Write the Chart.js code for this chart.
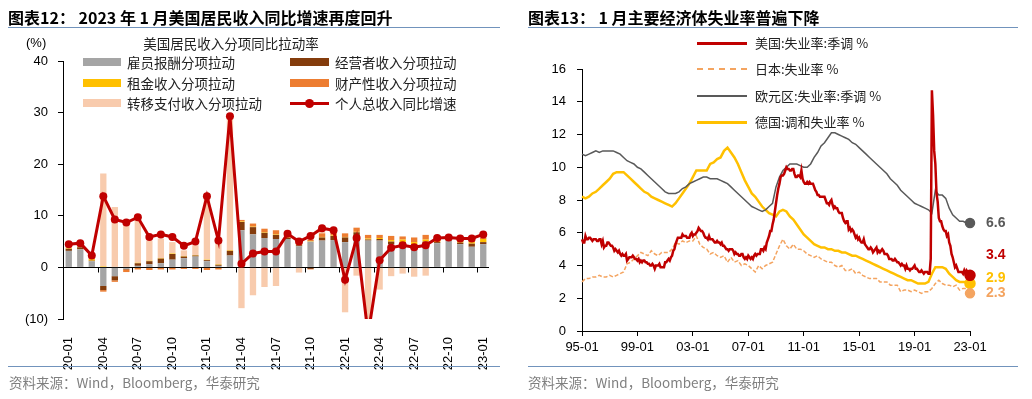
<!DOCTYPE html>
<html>
<head>
<meta charset="utf-8">
<script src="https://cdn.jsdelivr.net/npm/chart.js@4.4.0/dist/chart.umd.min.js"></script>
<style>
  body { margin: 0; width: 1032px; height: 399px; background: #fff; position: relative; overflow: hidden;
         font-family: "Noto Sans CJK SC", "Liberation Sans", sans-serif; }
  canvas { position: absolute; top: 0; }
  .t { position: absolute; white-space: nowrap; }
  .title { font-weight: bold; font-size: 16px; line-height: 16px; top: 9px; color: #000; }
  .rule { position: absolute; height: 0; border-top: 1.5px solid #7193BC; }
  .src { font-size: 13.5px; line-height: 14px; top: 375px; color: #7f7f7f; }
  .lg { font-size: 13.5px; line-height: 14px; color: #222; }
  .lg2 { font-size: 13px; line-height: 14px; color: #222; }
  .sw { position: absolute; }
</style>
</head>
<body>
<canvas id="incomeChart" width="515" height="399" style="left:0"></canvas>
<canvas id="jobsChart" width="512" height="399" style="left:520px"></canvas>

<div class="t title" style="left:8px">图表12： 2023 年 1 月美国居民收入同比增速再度回升</div>
<div class="rule" style="left:8px;width:492px;top:27px"></div>
<div class="rule" style="left:8px;width:492px;top:366px"></div>
<div class="t src" style="left:9px">资料来源：Wind，Bloomberg，华泰研究</div>

<div class="t title" style="left:528px">图表13： 1 月主要经济体失业率普遍下降</div>
<div class="rule" style="left:528px;width:490px;top:27px"></div>
<div class="rule" style="left:528px;width:490px;top:366px"></div>
<div class="t src" style="left:528px">资料来源：Wind，Bloomberg，华泰研究</div>

<!-- left legend -->
<div class="t" style="left:26px;top:36px;font:13px/14px 'Liberation Sans',Arial,sans-serif;">(%)</div>
<div class="t lg" style="left:131px;width:200px;text-align:center;top:36px">美国居民收入分项同比拉动率</div>
<div class="sw" style="left:83px;top:58px;width:38px;height:8px;background:#A5A5A5"></div>
<div class="t lg" style="left:127px;top:55px">雇员报酬分项拉动</div>
<div class="sw" style="left:290px;top:58px;width:39px;height:8px;background:#843C0C"></div>
<div class="t lg" style="left:335px;top:55px">经营者收入分项拉动</div>
<div class="sw" style="left:83px;top:79px;width:38px;height:8px;background:#FFC000"></div>
<div class="t lg" style="left:127px;top:76px">租金收入分项拉动</div>
<div class="sw" style="left:290px;top:79px;width:39px;height:8px;background:#ED7D31"></div>
<div class="t lg" style="left:335px;top:76px">财产性收入分项拉动</div>
<div class="sw" style="left:83px;top:99px;width:38px;height:8px;background:#F8CBAD"></div>
<div class="t lg" style="left:127px;top:96px">转移支付收入分项拉动</div>
<div class="sw" style="left:290px;top:102px;width:39px;height:3px;background:#C00000"></div>
<div class="sw" style="left:305px;top:99px;width:9px;height:9px;border-radius:50%;background:#C00000"></div>
<div class="t lg" style="left:335px;top:96px">个人总收入同比增速</div>

<!-- right legend -->
<div class="sw" style="left:697px;top:42px;width:50px;height:3px;background:#C00000"></div>
<div class="t lg2" style="left:755px;top:36px">美国:失业率:季调 %</div>
<div class="sw" style="left:697px;top:68px;width:50px;height:0;border-top:2px dashed #F4A460"></div>
<div class="t lg2" style="left:755px;top:62px">日本:失业率 %</div>
<div class="sw" style="left:697px;top:95px;width:50px;height:2px;background:#595959"></div>
<div class="t lg2" style="left:755px;top:89px">欧元区:失业率:季调 %</div>
<div class="sw" style="left:697px;top:121px;width:50px;height:3px;background:#FFC000"></div>
<div class="t lg2" style="left:755px;top:115px">德国:调和失业率 %</div>

<script>
Chart.defaults.font.family = "'Liberation Sans', Arial, sans-serif";
Chart.defaults.font.size = 13;
Chart.defaults.color = '#000';

// ---- left chart data: US personal income, YoY contributions (%) ----
const months = ['20-01','20-02','20-03','20-04','20-05','20-06','20-07','20-08','20-09','20-10','20-11','20-12',
  '21-01','21-02','21-03','21-04','21-05','21-06','21-07','21-08','21-09','21-10','21-11','21-12',
  '22-01','22-02','22-03','22-04','22-05','22-06','22-07','22-08','22-09','22-10','22-11','22-12','23-01'];
const empComp  = [3.2, 3.5, 1.2, -3.6, -1.7, -0.3, 0.3, 0.6, 0.8, 1.5, 1.8, 2.1, 1.2, 0.3, 2.3, 7.2, 6.4, 5.7, 5.5, 5.5, 4.1, 5.0, 5.2, 5.3, 4.9, 6.0, 5.2, 5.2, 4.5, 4.7, 4.2, 4.7, 4.7, 5.2, 4.5, 4.0, 4.5];
const business = [0.4, 0.4, 0.1, -0.8, -0.8, -0.1, 0.5, 0.6, 0.9, 1.1, 0.3, 0.2, 0.2, 0.2, 0.9, 1.6, 1.4, 1.0, 0.8, 0.2, 0.2, -0.3, 0.6, 0.8, 0.9, 0.8, 0.2, 0.3, 0.5, 0.2, 0.2, 0.3, 0.2, 0.2, 0.3, 0.6, 0.4];
const rent     = [0.1, 0.1, 0.3, 0.2, 0.1, 0.1, 0.1, 0.1, 0.1, 0.1, 0.1, 0.1, 0.1, 0.1, 0.1, 0.1, 0.1, 0.1, 0.1, 0.1, 0.1, 0.1, 0.1, 0.1, 0.1, 0.1, 0.2, 0.2, 0.3, 0.5, 0.5, 0.4, 0.3, 0.2, 0.2, 0.3, 0.6];
const property = [0.1, 0.1, 0.1, -0.3, -0.3, -0.5, -0.4, -0.5, -0.4, -0.4, -0.3, -0.3, -0.5, -0.4, 0.1, 0.3, 0.6, 0.7, 0.8, 0.3, 0.6, 0.3, 0.7, 0.6, 0.7, 0.8, 0.7, 0.6, 0.8, 0.6, 0.9, 0.9, 0.3, 0.2, 0.2, 0.2, 0.2];
const transfer = [0.3, 0.3, 0.2, 18.0, 11.6, 8.1, 8.2, 3.9, 3.8, 2.2, 1.1, 1.9, 11.8, 5.0, 25.9, -7.9, -5.4, -3.8, -3.6, 0.2, -1.0, -0.2, 0.3, 0.5, -8.7, -1.6, -16, -4.3, -1.7, -1.2, -1.8, -1.6, 0.2, 0.1, 0.2, 0.2, 0.2];
const totalYoY = [4.5, 4.7, 2.3, 13.8, 9.3, 8.7, 9.7, 5.9, 6.4, 5.9, 4.2, 5.0, 13.8, 5.2, 29.3, 0.7, 2.7, 3.1, 3.1, 6.5, 5.0, 6.1, 7.6, 7.2, -2.4, 5.7, -13, 1.4, 3.8, 4.3, 3.9, 4.3, 5.7, 5.8, 5.6, 5.6, 6.4];

// ---- right chart data: unemployment rates (%) ----
// US monthly from 1995-01; the others quarterly (Jan/Apr/Jul/Oct) from 1995-01
const usRate = [
  5.6,5.4,5.4,5.8,5.6,5.6,5.7,5.7,5.6,5.5,5.6,5.6,
  5.6,5.5,5.5,5.6,5.6,5.3,5.5,5.1,5.2,5.2,5.4,5.4,
  5.3,5.2,5.2,5.1,4.9,5.0,4.9,4.8,4.9,4.7,4.6,4.7,
  4.6,4.6,4.7,4.3,4.4,4.5,4.5,4.5,4.6,4.5,4.4,4.4,
  4.3,4.4,4.2,4.3,4.2,4.3,4.3,4.2,4.2,4.1,4.1,4.0,
  4.0,4.1,4.0,3.8,4.0,4.0,4.0,4.1,3.9,3.9,3.9,3.9,
  4.2,4.2,4.3,4.4,4.3,4.5,4.6,4.9,5.0,5.3,5.5,5.7,
  5.7,5.7,5.7,5.9,5.8,5.8,5.8,5.7,5.7,5.7,5.9,6.0,
  5.8,5.9,5.9,6.0,6.1,6.3,6.2,6.1,6.1,6.0,5.8,5.7,
  5.7,5.6,5.8,5.6,5.6,5.6,5.5,5.4,5.4,5.5,5.4,5.4,
  5.3,5.4,5.2,5.2,5.1,5.0,5.0,4.9,5.0,5.0,5.0,4.9,
  4.7,4.8,4.7,4.7,4.6,4.6,4.7,4.7,4.5,4.4,4.5,4.4,
  4.6,4.5,4.4,4.5,4.4,4.6,4.7,4.6,4.7,4.7,4.7,5.0,
  5.0,4.9,5.1,5.0,5.4,5.6,5.8,6.1,6.1,6.5,6.8,7.3,
  7.8,8.3,8.7,9.0,9.4,9.5,9.5,9.6,9.8,10.0,9.9,9.9,
  9.8,9.8,9.9,9.9,9.6,9.4,9.4,9.5,9.5,9.4,9.8,9.3,
  9.1,9.0,9.0,9.1,9.0,9.1,9.0,9.0,9.0,8.8,8.6,8.5,
  8.3,8.3,8.2,8.2,8.2,8.2,8.2,8.0,7.8,7.8,7.7,7.9,
  8.0,7.7,7.5,7.6,7.5,7.5,7.3,7.2,7.2,7.2,6.9,6.7,
  6.6,6.7,6.7,6.2,6.3,6.1,6.2,6.1,5.9,5.7,5.8,5.6,
  5.7,5.5,5.4,5.4,5.6,5.3,5.2,5.1,5.0,5.0,5.1,5.0,
  4.8,4.9,5.0,5.1,4.8,4.9,4.8,4.9,5.0,4.9,4.7,4.7,
  4.7,4.6,4.4,4.4,4.4,4.3,4.3,4.4,4.3,4.2,4.2,4.1,
  4.0,4.1,4.0,4.0,3.8,4.0,3.8,3.8,3.7,3.8,3.8,3.9,
  4.0,3.8,3.8,3.7,3.6,3.6,3.7,3.6,3.5,3.6,3.6,3.6,
  3.5,3.5,4.4,14.7,13.2,11.0,10.2,8.4,7.9,6.9,6.7,6.7,
  6.4,6.2,6.1,6.1,5.8,5.9,5.4,5.2,4.7,4.5,4.2,3.9,
  4.0,3.8,3.6,3.6,3.6,3.6,3.5,3.7,3.5,3.7,3.6,3.5,
  3.4];
const jpRate = [
  3.0,3.2,3.2,3.3, 3.3,3.4,3.3,3.3, 3.4,3.3,3.4,3.5, 3.6,4.1,4.2,4.4,
  4.6,4.8,4.7,4.6, 4.9,4.7,4.6,4.8, 4.8,4.8,5.0,5.4, 5.3,5.5,5.4,5.5,
  5.5,5.8,5.3,5.1, 5.0,4.7,4.8,4.6, 4.5,4.6,4.2,4.5, 4.2,4.3,4.0,4.1,
  4.0,3.8,3.6,4.0, 3.8,4.0,4.1,4.2, 4.7,5.2,5.6,5.2, 5.0,5.3,5.0,5.0,
  4.9,4.7,4.6,4.5, 4.6,4.4,4.3,4.2, 4.2,4.0,3.9,4.0, 3.7,3.7,3.8,3.5,
  3.6,3.4,3.3,3.2, 3.2,3.2,3.0,3.0, 3.0,2.8,2.8,2.8, 2.4,2.5,2.5,2.4,
  2.5,2.4,2.3,2.4, 2.4,2.6,2.9,3.1, 2.9,2.8,2.8,2.7, 2.8,2.5,2.6,2.6,
  2.3];
const euRate = [
  10.8,10.7,10.8,10.9, 11.0,10.9,11.0,11.0, 11.0,11.0,10.9,10.8, 10.6,10.4,10.3,10.2,
  10.0,9.9,9.7,9.5, 9.3,9.1,8.9,8.7, 8.5,8.4,8.4,8.4, 8.5,8.7,8.8,9.0,
  9.1,9.2,9.3,9.4, 9.4,9.3,9.3,9.3, 9.2,9.1,9.0,8.8, 8.6,8.4,8.2,8.0,
  7.8,7.6,7.5,7.4, 7.3,7.4,7.6,7.8, 8.8,9.4,9.8,10.0, 10.2,10.2,10.2,10.1,
  10.0,10.0,10.2,10.6, 10.9,11.3,11.5,11.8, 12.1,12.1,12.0,11.9, 11.8,11.7,11.5,11.4,
  11.2,11.0,10.8,10.6, 10.4,10.2,10.0,9.8, 9.6,9.3,9.1,8.9, 8.6,8.4,8.2,8.0,
  7.8,7.7,7.6,7.5, 7.4,7.2,8.6,8.3, 8.3,8.1,7.5,7.1, 6.9,6.7,6.7,6.6,
  6.6];
const deRate = [
  8.2,8.1,8.2,8.4, 8.5,8.7,8.9,9.1, 9.3,9.6,9.7,9.7, 9.7,9.5,9.3,9.1,
  8.9,8.7,8.5,8.4, 8.2,8.1,8.0,7.9, 7.8,7.7,7.6,7.8, 8.1,8.4,8.7,9.0,
  9.4,9.8,9.8,9.8, 9.8,10.2,10.3,10.5, 10.6,11.0,11.2,10.9, 10.6,10.2,9.7,9.2,
  8.8,8.4,8.2,7.9, 7.6,7.4,7.2,7.1, 7.0,7.3,7.4,7.3, 7.0,6.8,6.5,6.2,
  5.9,5.7,5.5,5.3, 5.2,5.1,5.1,5.0, 5.0,4.9,4.9,4.8, 4.8,4.7,4.6,4.6,
  4.5,4.4,4.3,4.2, 4.1,4.0,3.9,3.8, 3.7,3.6,3.5,3.4, 3.3,3.2,3.1,3.1,
  3.0,2.9,2.9,2.9, 3.0,3.5,3.9,3.9, 3.9,3.8,3.5,3.3, 3.1,3.0,3.0,3.0,
  2.9];

// zero line and tick marks at every third month boundary
const zeroAxis = {
  id: 'zeroAxis',
  beforeDatasetsDraw(chart) {
    const { ctx, chartArea, scales } = chart;
    const y0 = Math.round(scales.y.getPixelForValue(0)) + 0.5;
    const half = (scales.x.getPixelForValue(1) - scales.x.getPixelForValue(0)) / 2;
    ctx.save();
    ctx.strokeStyle = '#000';
    ctx.lineWidth = 1;
    ctx.beginPath();
    ctx.moveTo(chartArea.left, y0);
    ctx.lineTo(chartArea.right, y0);
    for (let i = 3; i < months.length; i += 3) {
      const x = Math.round(scales.x.getPixelForValue(i) - half) + 0.5;
      ctx.moveTo(x, y0);
      ctx.lineTo(x, y0 + 5);
    }
    ctx.stroke();
    ctx.restore();
  }
};

function bar(label, data, color) {
  return { type: 'bar', label, data, backgroundColor: color, stack: 'parts', order: 1,
           barPercentage: 0.55, categoryPercentage: 1 };
}

new Chart(document.getElementById('incomeChart'), {
  data: {
    labels: months,
    datasets: [
      { type: 'line', label: '个人总收入同比增速', data: totalYoY, stack: 'total', order: 0,
        borderColor: '#C00000', backgroundColor: '#C00000', borderWidth: 3,
        pointRadius: 4, pointBorderWidth: 0, tension: 0 },
      bar('雇员报酬分项拉动', empComp, '#A5A5A5'),
      bar('经营者收入分项拉动', business, '#843C0C'),
      bar('租金收入分项拉动', rent, '#FFC000'),
      bar('财产性收入分项拉动', property, '#ED7D31'),
      bar('转移支付收入分项拉动', transfer, '#F8CBAD')
    ]
  },
  options: {
    responsive: false,
    animation: false,
    devicePixelRatio: 1,
    layout: { padding: { top: 61, right: 26, left: 0, bottom: 0 } },
    plugins: { legend: { display: false }, tooltip: { enabled: false } },
    scales: {
      x: {
        stacked: true,
        grid: { display: false },
        border: { display: false },
        ticks: { autoSkip: false, minRotation: 90, maxRotation: 90, padding: 10,
                 callback: (v, i) => (i % 3 === 0 ? months[i] : '') },
        afterFit(s) { s.height = 80; }
      },
      y: {
        stacked: true,
        min: -10, max: 40,
        ticks: { stepSize: 10, padding: 10, callback: v => (v < 0 ? '(' + (-v) + ')' : v) },
        grid: { drawOnChartArea: false, tickLength: 5, color: '#000' },
        border: { color: '#000' },
        afterFit(s) { s.width = 63; }
      }
    }
  },
  plugins: [zeroAxis]
});

// value labels beside the last point of each series
const labelShift = [-20, 0, 0, -5];
const labelColors = ['#C00000', '#F4A460', '#595959', '#FFC000'];
const endLabels = {
  id: 'endLabels',
  afterDatasetsDraw(chart) {
    const ctx = chart.ctx;
    ctx.save();
    ctx.font = "bold 14px 'Liberation Sans', Arial, sans-serif";
    ctx.textBaseline = 'middle';
    ctx.textAlign = 'left';
    chart.data.datasets.forEach((ds, i) => {
      const pts = chart.getDatasetMeta(i).data;
      const last = pts[pts.length - 1];
      ctx.fillStyle = labelColors[i];
      ctx.fillText(ds.data[ds.data.length - 1].y.toFixed(1), last.x + 16, last.y + labelShift[i]);
    });
    ctx.restore();
  }
};

const monthly = arr => arr.map((v, i) => ({ x: 1995 + i / 12, y: v }));
const quarterly = arr => arr.map((v, i) => ({ x: 1995 + i / 4, y: v }));
const lastDot = c => (c.dataIndex === c.dataset.data.length - 1 ? 4.5 : 0);

new Chart(document.getElementById('jobsChart'), {
  type: 'line',
  data: {
    datasets: [
      { label: '美国:失业率:季调 %', data: monthly(usRate), borderColor: '#C00000', backgroundColor: '#C00000',
        borderWidth: 2.5 },
      { label: '日本:失业率 %', data: quarterly(jpRate), borderColor: '#F4A460', backgroundColor: '#F4A460',
        borderWidth: 1.5, borderDash: [4, 2] },
      { label: '欧元区:失业率:季调 %', data: quarterly(euRate), borderColor: '#595959', backgroundColor: '#595959',
        borderWidth: 1.5 },
      { label: '德国:调和失业率 %', data: quarterly(deRate), borderColor: '#FFC000', backgroundColor: '#FFC000',
        borderWidth: 2.5 }
    ]
  },
  options: {
    responsive: false,
    animation: false,
    devicePixelRatio: 1,
    layout: { padding: { top: 69, right: 62, left: 0, bottom: 0 } },
    elements: { line: { tension: 0 }, point: { radius: lastDot, borderWidth: 0 } },
    datasets: { line: { clip: false } },
    plugins: { legend: { display: false }, tooltip: { enabled: false } },
    scales: {
      x: {
        type: 'linear', min: 1995, max: 2023,
        ticks: { stepSize: 4, padding: 4,
                 callback: v => String(Math.round(v) % 100).padStart(2, '0') + '-01' },
        grid: { drawOnChartArea: false, tickLength: 5, color: '#000' },
        border: { color: '#000' },
        afterFit(s) { s.height = 68; }
      },
      y: {
        min: 0, max: 16,
        ticks: { stepSize: 2, padding: 11 },
        grid: { drawOnChartArea: false, tickLength: 5, color: '#000' },
        border: { color: '#000' },
        afterFit(s) { s.width = 62; }
      }
    }
  },
  plugins: [endLabels]
});
</script>
</body>
</html>
